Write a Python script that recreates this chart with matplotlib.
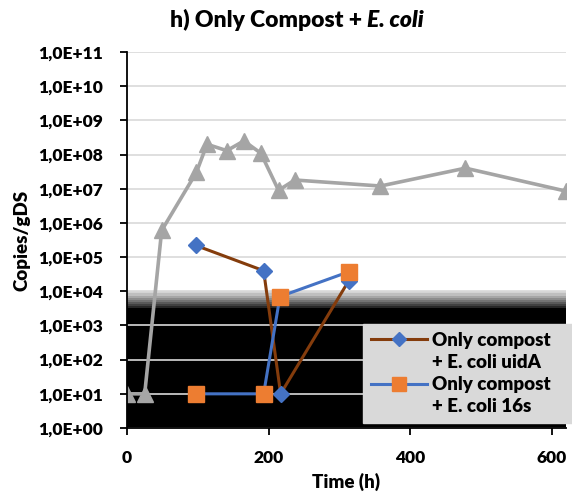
import numpy as np
import matplotlib.pyplot as plt
from matplotlib.ticker import FuncFormatter, FixedLocator, NullLocator

plt.rcParams['font.family'] = ['Lato', 'DejaVu Sans']
plt.rcParams['font.weight'] = 'heavy'
plt.rcParams['axes.labelweight'] = 'heavy'

# DATOS

t_total = [0, 25, 49, 98, 113, 141, 165, 189, 214, 237, 358, 478, 620]
copias_total = [1.0e1, 1.0e1, 6.0e5, 3.0e7, 2.0e8, 1.3e8, 2.5e8, 1.1e8, 9.0e6, 1.8e7, 1.2e7, 4.0e7, 8.5e6]

t_uida = [97, 193, 217, 313]
copias_uida = [2.2e5, 4.0e4, 1.0e1, 2.0e4]

t_16s = [97, 193, 216, 313]
copias_16s = [1.0e1, 1.0e1, 7.0e3, 3.7e4]

etiquetas = ["Only compost", "+ E. coli uidA", "Only compost", "+ E. coli 16s"]

# GRAFICO

fig = plt.figure(figsize=(5.72, 5.01), dpi=100)
ax = fig.add_axes([0.222, 0.1457, 0.7675, 0.7505])

ax.set_yscale("log")
ax.set_ylim(1, 1e11)
ax.set_xlim(0, 620)

# zona negra (limite de deteccion) con degradado
ax.axhspan(1, 10**3.5, color="black", zorder=0.2, lw=0)
grises = ["#262626", "#404040", "#595959", "#737373", "#8c8c8c", "#a6a6a6", "#bfbfbf", "#d4d4d4"]
bordes = np.linspace(3.5, 4.0, len(grises) + 1)
for i, g in enumerate(grises):
    ax.axhspan(10**bordes[i], 10**bordes[i + 1], color=g, zorder=0.2, lw=0)

ax.plot(t_total, copias_total, color="#a5a5a5", lw=2.6, marker="^", ms=11, zorder=2)
l1, = ax.plot(t_uida, copias_uida, color="#843c0c", lw=2.2, marker="D", ms=8.5,
              mfc="#4472c4", mec="#4472c4", zorder=3)
l2, = ax.plot(t_16s, copias_16s, color="#4472c4", lw=2.2, marker="s", ms=12,
              mfc="#ed7d31", mec="#ed7d31", zorder=3)

ax.set_axisbelow(True)
ax.yaxis.set_major_locator(FixedLocator([10.0**k for k in range(12)]))
ax.yaxis.set_minor_locator(NullLocator())
ax.yaxis.set_major_formatter(FuncFormatter(lambda v, p: "1,0E+%02d" % int(round(np.log10(v)))))
ax.set_xticks([0, 200, 400, 600])
ax.grid(True, axis="y", color="#d9d9d9", lw=1.2)
ax.tick_params(axis="both", direction="out", length=5, width=1.3, labelsize=12.5, colors="black")
ax.tick_params(axis="x", pad=11)
ax.tick_params(axis="y", pad=12)

for s in ["top", "right"]:
    ax.spines[s].set_visible(False)
for s in ["left", "bottom"]:
    ax.spines[s].set_linewidth(1.3)

ax.set_xlabel("Time (h)", fontsize=13.5, fontweight="heavy", labelpad=5)
ax.set_ylabel("Copies/gDS", fontsize=13.5, fontweight="heavy", labelpad=6)

# titulo con E. coli en cursiva
t1 = fig.text(170 / 572, 1 - 27 / 501, "h) Only Compost + ", fontsize=16.5, ha="left", va="baseline")
ax.annotate("E. coli", xy=(1, 0), xycoords=t1, va="bottom", ha="left",
            fontsize=16.5, style="italic", annotation_clip=False)

vacio = plt.Line2D([], [], linestyle="none")
leg = ax.legend([l1, vacio, l2, vacio], etiquetas, loc="lower left",
                bbox_to_anchor=(363 / 572, (501 - 423) / 501, 209 / 572, 101 / 501),
                bbox_transform=fig.transFigure, mode="expand", markerscale=0.8,
                prop={"size": 13.5, "weight": "heavy"}, frameon=True, fancybox=False, framealpha=1,
                facecolor="#d9d9d9", edgecolor="#d9d9d9", handlelength=3.0,
                handletextpad=0.3, labelspacing=0.28, borderpad=0.4, borderaxespad=0)
leg.set_zorder(5)

plt.savefig("out.png", dpi=100)
